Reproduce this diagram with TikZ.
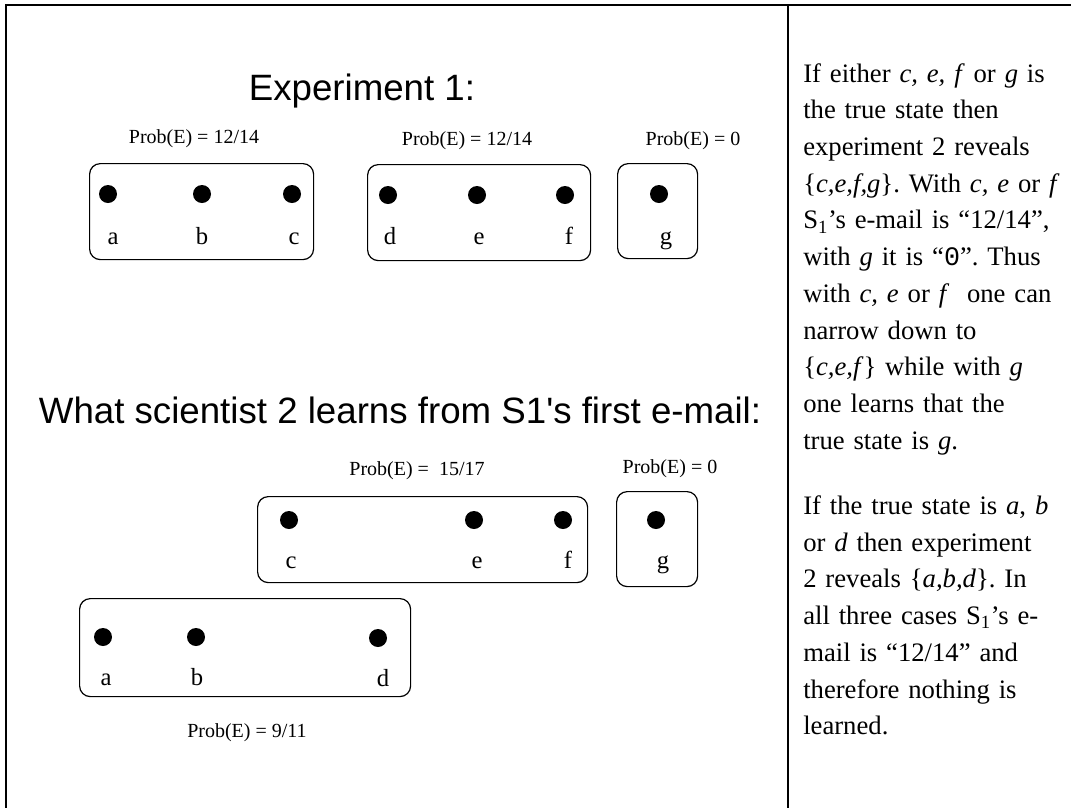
\documentclass[tikz,border=0pt]{standalone}
\usepackage{fontspec}
\setmainfont{Liberation Serif}
\setmonofont{Liberation Mono}
\newfontfamily\headfont{Liberation Sans}
\frenchspacing

\begin{document}
\begin{tikzpicture}[x=0.75pt,y=-0.75pt,
  setbox/.style={rectangle,draw,line width=0.9pt,rounded corners=8pt,anchor=north west,inner sep=0pt},
  state/.style={circle,fill=black,minimum size=13.5pt,inner sep=0pt},
  lbl/.style={anchor=base,font=\fontsize{18.5}{21}\selectfont},
  prob/.style={anchor=base,font=\fontsize{15}{18}\selectfont},
  heading/.style={anchor=base,font=\headfont\fontsize{27.5}{32}\selectfont}]
\useasboundingbox (0,0) rectangle (1071,808);

% table lines
\draw[line width=2pt] (5,5) -- (1071,5);
\draw[line width=2pt] (6,5) -- (6,808);
\draw[line width=2pt] (788,5) -- (788,808);

% Experiment 1
\node (exp) [heading] at (362,100) {Experiment 1:};

\node (abc) [setbox, minimum width=168pt, minimum height=72pt] at (89,163) {};
\node (def) [setbox, minimum width=167.25pt, minimum height=72pt] at (367,164) {};
\node (g) [setbox, minimum width=60pt, minimum height=71.25pt] at (617,163) {};

\node (pabc) [prob] at (194,143) {Prob(E) = 12/14};
\node (pdef) [prob] at (467,145) {Prob(E) = 12/14};
\node (pg) [prob] at (693,145) {Prob(E) = 0};

\node (sa) [state] at (108,194) {};
\node (sb) [state] at (202,194) {};
\node (sc) [state] at (292,194) {};
\node (sd) [state] at (388,195) {};
\node (se) [state] at (477,195) {};
\node (sf) [state] at (565,195) {};
\node (sg) [state] at (659,194) {};

\node (la) [lbl] at (113,244) {a};
\node (lb) [lbl] at (202,244) {b};
\node (lc) [lbl] at (294,244) {c};
\node (ld) [lbl] at (390,244) {d};
\node (le) [lbl] at (479,244) {e};
\node (lf) [lbl] at (569,244) {f};
\node (lg) [lbl] at (666,244) {g};

% after the first e-mail
\node (learn) [heading] at (400,423) {What scientist 2 learns from S1's first e-mail:};

\node (cef) [setbox, minimum width=247.5pt, minimum height=64.5pt] at (257,496) {};
\node (gg) [setbox, minimum width=60.75pt, minimum height=71.25pt] at (616,491) {};
\node (abd) [setbox, minimum width=248.25pt, minimum height=73.5pt] at (79,598) {};

\node (pcef) [prob] at (417,475) {Prob(E) = \ 15/17};
\node (pgg) [prob] at (670,473) {Prob(E) = 0};
\node (pabd) [prob] at (247,737) {Prob(E) = 9/11};

\node (tc) [state] at (289,520) {};
\node (te) [state] at (474,520) {};
\node (tf) [state] at (563,520) {};
\node (tg) [state] at (656,520) {};
\node (ta) [state] at (103,637) {};
\node (tb) [state] at (196,637) {};
\node (td) [state] at (378,638) {};

\node (mc) [lbl] at (291,568) {c};
\node (me) [lbl] at (477,568) {e};
\node (mf) [lbl] at (568,568) {f};
\node (mg) [lbl] at (663,568) {g};
\node (ma) [lbl] at (106,685) {a};
\node (mb) [lbl] at (197,685) {b};
\node (md) [lbl] at (383,686) {d};

% comment column
\node (note) [anchor=base west, inner sep=0pt, text width=250pt, align=left,
  font=\fontsize{20}{27.56}\selectfont] at (803,82) {%
If either \textit{c, e, f} or \textit{g} is\\
the true state then\\
experiment 2 reveals\\
\{\textit{c,e,f,g}\}. With \textit{c, e} or \textit{f}\\
S\textsubscript{1}'s e-mail is ``12/14'',\\
with \textit{g} it is ``\texttt{0}''. Thus\\
with \textit{c, e} or \textit{f}\ \ one can\\
narrow down to\\
\{\textit{c,e,f}\} while with \textit{g}\\
one learns that the\\
true state is \textit{g}.\\[21.2pt]
If the true state is \textit{a}, \textit{b}\\
or \textit{d} then experiment\\
2 reveals \{\textit{a,b,d}\}. In\\
all three cases S\textsubscript{1}'s e-\\
mail is ``12/14'' and\\
therefore nothing is\\
learned.};
\end{tikzpicture}
\end{document}
